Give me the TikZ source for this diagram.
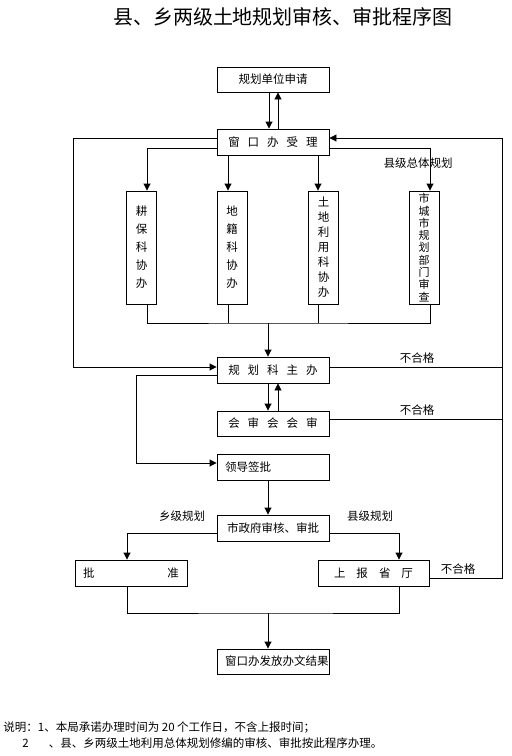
\documentclass[tikz,border=0pt]{standalone}
\usepackage{fontspec}
\setmainfont{Noto Sans CJK SC}
\usetikzlibrary{arrows.meta, positioning}
\newcommand{\cgap}{\hspace{8pt}}
\newcommand{\boxl}[1]{\makebox[96pt][l]{#1}}

\begin{document}
\begin{tikzpicture}[
  x=1pt, y=-1pt,
  box/.style={draw, minimum width=112pt, minimum height=26pt, inner sep=0pt,
    font=\fontsize{11.5}{14}\selectfont},
  vbox/.style={draw, minimum width=30pt, minimum height=113pt, inner sep=0pt,
    align=center},
  note/.style={inner sep=0pt, font=\fontsize{11.5}{14}\selectfont},
  >={Triangle[length=7pt, width=7pt]}, line width=0.9pt
]
\useasboundingbox (0,0) rectangle (512,756);
\node[font=\fontsize{20}{20}\selectfont] (title) at (283,17) {县、乡两级土地规划审核、审批程序图};
\node[box, minimum height=25pt] (apply) at (273,79.5) {规划单位申请};
\node[box] (window) at (273,142) {窗\cgap 口\cgap 办\cgap 受\cgap 理};
\node[vbox, font=\fontsize{11.5}{18}\selectfont] (geng) at (141.5,247.5) {耕\\保\\科\\协\\办};
\node[vbox, font=\fontsize{11.5}{18}\selectfont] (diji) at (232,247.5) {地\\籍\\科\\协\\办};
\node[vbox, font=\fontsize{11.5}{15}\selectfont] (tudi) at (323.5,247.5) {土\\地\\利\\用\\科\\协\\办};
\node[vbox, font=\fontsize{11}{12.3}\selectfont] (shi) at (424,247.5) {市\\城\\市\\规\\划\\部\\门\\审\\查};
\node[box] (zhuban) at (273,370) {规\cgap 划\cgap 科\cgap 主\cgap 办};
\node[box, minimum height=25pt] (huishen) at (273,423.5) {会\cgap 审\cgap 会\cgap 会\cgap 审};
\node[box] (lingdao) at (273,467) {\boxl{领导签批}};
\node[box] (shizhengfu) at (273,528) {市政府审核、审批};
\node[box] (pizhun) at (131,573) {\makebox[96pt]{批\hfill 准}};
\node[box, minimum width=111pt] (shangbao) at (373.5,573) {上\hspace{11pt}报\hspace{11pt}省\hspace{11pt}厅};
\node[box, minimum height=25pt] (jieguo) at (273,661.5) {\boxl{窗口办发放办文结果}};

\node[note] (xianzongti) at (418,163) {县级总体规划};
\node[note] (bhg1) at (417,358) {不合格};
\node[note] (bhg2) at (417,410) {不合格};
\node[note] (bhg3) at (458,569) {不合格};
\node[note] (xiangji) at (182,516) {乡级规划};
\node[note] (xianji) at (370,516) {县级规划};
\node[note, anchor=west] (shuoming1) at (3,728) {说明：1、本局承诺办理时间为 20 个工作日，不含上报时间；};
\node[note, anchor=west] (shuoming2) at (22,743) {2\hspace{20pt}、县、乡两级土地利用总体规划修编的审核、审批按此程序办理。};

\draw[->] ([xshift=-4]apply.south) -- ([xshift=-4]window.north);
\draw[->] ([xshift=5]window.north) -- ([xshift=5]apply.south);

\coordinate (gengin) at ([xshift=5.5]geng.north);
\coordinate (dijiin) at ([xshift=-4]diji.north);
\coordinate (tudiin) at ([xshift=-5.5]tudi.north);
\coordinate (shiin) at ([xshift=6]shi.north);
\draw[->] ([yshift=-6]window.west) -| (gengin);
\draw[->] (dijiin |- window.south) -- (dijiin);
\draw[->] (tudiin |- window.south) -- (tudiin);
\draw[->] ([yshift=-6]window.east) -| (shiin);

\coordinate (merge) at (268,323);
\draw (gengin |- geng.south) |- (merge) -| (shiin |- shi.south);
\draw (dijiin |- diji.south) -- (dijiin |- merge);
\draw (tudiin |- tudi.south) -- (tudiin |- merge);
\draw[->] (merge) -- (merge |- zhuban.north);

\draw[->] ([yshift=4]window.west) -- ++(-143,0) |- ([yshift=3]zhuban.west);
\draw[->] ([yshift=-5]shangbao.east) -- ++(73,0) |- ([yshift=4]window.east);
\draw ([yshift=3]zhuban.east) -- ++(173,0);
\draw ([yshift=4.5]huishen.east) -- ++(173,0);

\draw[->] ([xshift=-5]zhuban.south) -- ([xshift=-5]huishen.north);
\draw[->] ([xshift=5]huishen.north) -- ([xshift=5]zhuban.south);
\draw[->] ([yshift=-5]zhuban.west) -- ++(-80,0) |- ([yshift=4]lingdao.west);
\draw[->] ([xshift=-5]lingdao.south) -- ([xshift=-5]shizhengfu.north);

\coordinate (pizhunin) at ([xshift=-4]pizhun.north);
\coordinate (shangbaoin) at ([xshift=25.5]shangbao.north);
\draw[->] ([yshift=-5]shizhengfu.west) -| (pizhunin);
\draw[->] ([yshift=-5]shizhengfu.east) -| (shangbaoin);

\coordinate (join) at (268,613);
\draw (pizhunin |- pizhun.south) |- (join) -| (shangbaoin |- shangbao.south);
\draw[->] (join) -- (join |- jieguo.north);
\end{tikzpicture}
\end{document}
